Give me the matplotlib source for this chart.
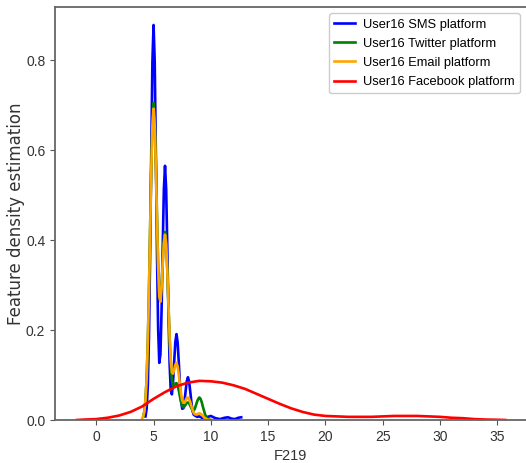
import matplotlib
matplotlib.use("Agg")
import matplotlib.pyplot as plt

# curves (x = F219, y = density)
sms_x = [4.3, 4.4, 4.5, 4.6, 4.7, 4.8, 4.9, 5.0, 5.1, 5.2, 5.3, 5.4, 5.5, 5.6, 5.7, 5.8, 5.9,
         6.0, 6.1, 6.2, 6.3, 6.4, 6.5, 6.6, 6.7, 6.8, 6.9, 7.0, 7.1, 7.2, 7.3, 7.4, 7.5, 7.6,
         7.7, 7.8, 7.9, 8.0, 8.1, 8.2, 8.3, 8.4, 8.5, 8.6, 8.8, 9.0, 9.3, 9.6, 10.0, 10.4,
         10.8, 11.2, 11.5, 11.8, 12.1, 12.4, 12.65]
sms_y = [0.008, 0.026, 0.077, 0.186, 0.367, 0.595, 0.797, 0.878, 0.797, 0.596, 0.372, 0.203,
         0.127, 0.146, 0.244, 0.385, 0.513, 0.565, 0.513, 0.383, 0.238, 0.126, 0.066, 0.057,
         0.084, 0.130, 0.173, 0.191, 0.173, 0.129, 0.080, 0.043, 0.025, 0.026, 0.041, 0.065,
         0.086, 0.095, 0.086, 0.064, 0.040, 0.020, 0.012, 0.010, 0.007, 0.008, 0.004, 0.006,
         0.009, 0.004, 0.002, 0.005, 0.006, 0.003, 0.002, 0.005, 0.006]

twitter_x = [4.1, 4.2, 4.3, 4.4, 4.5, 4.6, 4.7, 4.8, 4.9, 5.0, 5.1, 5.2, 5.3, 5.4, 5.5, 5.6, 5.7,
             5.8, 5.9, 6.0, 6.1, 6.2, 6.3, 6.4, 6.5, 6.6, 6.7, 6.8, 6.9, 7.0, 7.1, 7.2, 7.3,
             7.4, 7.5, 7.6, 7.7, 7.8, 7.9, 8.0, 8.1, 8.2, 8.3, 8.4, 8.5, 8.6, 8.7, 8.8, 8.9,
             9.0, 9.1, 9.2, 9.3, 9.4, 9.5, 9.6, 9.7, 9.8, 10.0]
twitter_y = [0.008, 0.020, 0.046, 0.095, 0.175, 0.289, 0.427, 0.563, 0.665, 0.705, 0.670, 0.575,
             0.454, 0.345, 0.278, 0.266, 0.298, 0.352, 0.400, 0.418, 0.395, 0.334, 0.257, 0.182,
             0.123, 0.089, 0.076, 0.077, 0.081, 0.082, 0.077, 0.066, 0.052, 0.040, 0.031, 0.028,
             0.030, 0.034, 0.038, 0.039, 0.037, 0.032, 0.026, 0.022, 0.021, 0.025, 0.033, 0.041,
             0.047, 0.050, 0.047, 0.040, 0.030, 0.021, 0.012, 0.007, 0.003, 0.0014, 0.0002]

email_x = [4.0, 4.1, 4.2, 4.3, 4.4, 4.5, 4.6, 4.7, 4.8, 4.9, 5.0, 5.1, 5.2, 5.3, 5.4, 5.5, 5.6,
           5.7, 5.8, 5.9, 6.0, 6.1, 6.2, 6.3, 6.4, 6.5, 6.6, 6.7, 6.8, 6.9, 7.0, 7.1, 7.2, 7.3,
           7.4, 7.5, 7.6, 7.7, 7.8, 7.9, 8.0, 8.1, 8.2, 8.3, 8.4, 8.5, 8.6, 8.7, 8.8, 8.9, 9.0,
           9.1, 9.2, 9.3, 9.4, 9.5, 9.7, 9.9]
email_y = [0.003, 0.008, 0.019, 0.046, 0.093, 0.172, 0.284, 0.419, 0.553, 0.653, 0.692, 0.657,
           0.564, 0.446, 0.340, 0.274, 0.263, 0.294, 0.347, 0.393, 0.412, 0.391, 0.332, 0.257,
           0.186, 0.133, 0.106, 0.103, 0.112, 0.123, 0.127, 0.119, 0.101, 0.079, 0.058, 0.044,
           0.038, 0.038, 0.044, 0.049, 0.050, 0.047, 0.040, 0.031, 0.023, 0.016, 0.013, 0.012,
           0.013, 0.014, 0.015, 0.014, 0.012, 0.009, 0.006, 0.004, 0.001, 0.0002]

facebook_x = [-1.7, -1, 0, 1, 2, 3, 4, 5, 6, 7, 8, 9, 10, 11, 12, 13, 14, 15, 16, 17, 18, 19,
              20, 21, 22, 23, 24, 25, 26, 27, 28, 29, 30, 31, 32, 33, 34, 35, 35.7]
facebook_y = [0.000, 0.001, 0.002, 0.005, 0.010, 0.018, 0.030, 0.047, 0.062, 0.075, 0.083,
              0.087, 0.086, 0.083, 0.077, 0.069, 0.058, 0.047, 0.036, 0.026, 0.018, 0.012,
              0.009, 0.008, 0.007, 0.007, 0.007, 0.008, 0.009, 0.009, 0.009, 0.008, 0.007,
              0.005, 0.004, 0.002, 0.001, 0.0005, 0.000]

labels = ["User16 SMS platform", "User16 Twitter platform",
          "User16 Email platform", "User16 Facebook platform"]
colors = ["#0000ff", "#008000", "#ffa500", "#ff0000"]
x_ticks = [0, 5, 10, 15, 20, 25, 30, 35]
y_ticks = [0.0, 0.2, 0.4, 0.6, 0.8]

plt.rcParams['font.family'] = ['Liberation Sans', 'DejaVu Sans']

fig = plt.figure(figsize=(5.26, 4.63), dpi=100)
ax = fig.add_axes([55 / 526, 1 - 420 / 463, 471 / 526, 413 / 463])

series = [(sms_x, sms_y), (twitter_x, twitter_y), (email_x, email_y), (facebook_x, facebook_y)]
for (xs, ys), lab, col in zip(series, labels, colors):
    ax.plot(xs, ys, color=col, lw=1.9, label=lab)

ax.set_xlim(-3.6, 37.5)
ax.set_ylim(0, 0.918)
ax.set_xticks(x_ticks)
ax.set_yticks(y_ticks)
ax.set_yticklabels(["%.1f" % v for v in y_ticks])

for side in ["left", "bottom", "top"]:
    ax.spines[side].set_color("#666666")
    ax.spines[side].set_linewidth(1.3)
ax.spines["right"].set_visible(False)
ax.tick_params(colors="#555555", labelcolor="#333333", labelsize=10)

ax.set_xlabel("F219", fontsize=10.5, color="#333333")
ax.set_ylabel("Feature density estimation", fontsize=12, color="#333333",
              family="DejaVu Sans")
ax.yaxis.set_label_coords(-0.064, 0.5)

ax.legend(loc="upper right", fontsize=9.3, handlelength=1.6, handletextpad=0.6,
          labelspacing=0.55, framealpha=1, edgecolor="#cccccc")

fig.savefig("out.png", dpi=100)
